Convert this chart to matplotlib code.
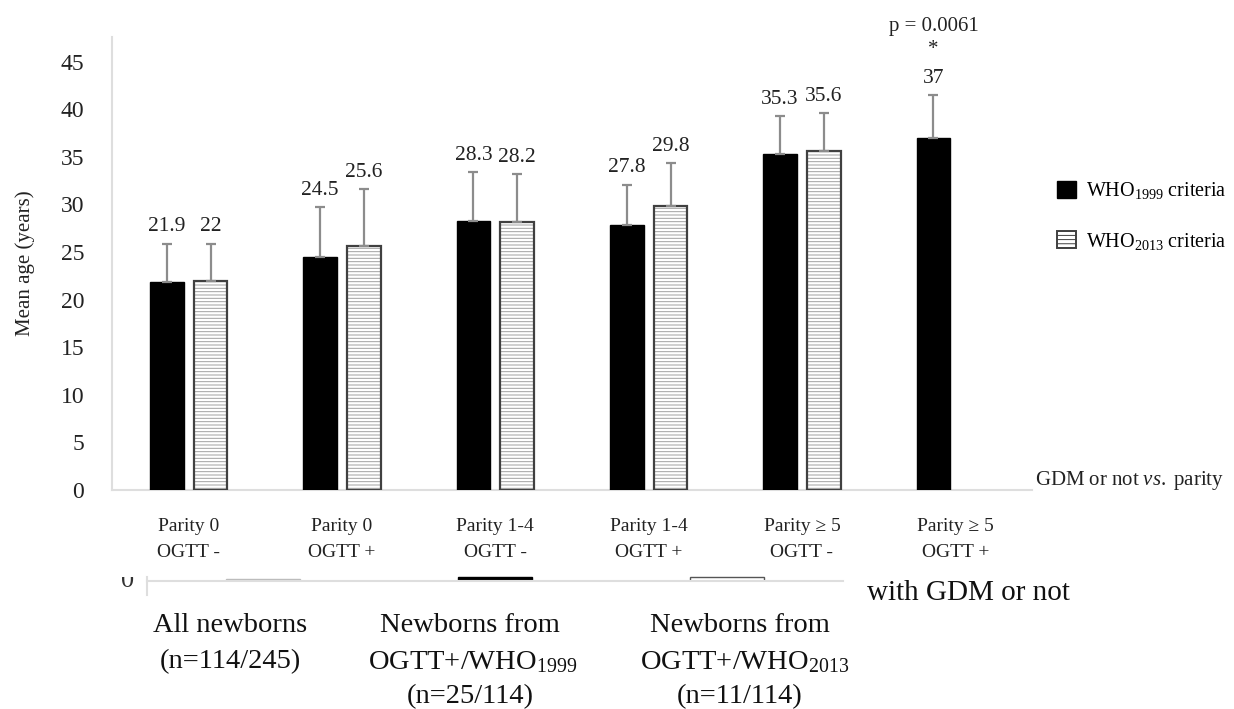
import matplotlib
matplotlib.use("Agg")
import matplotlib.pyplot as plt
import numpy as np
from matplotlib.patches import Patch
from matplotlib.lines import Line2D
from matplotlib.transforms import Bbox

plt.rcParams['font.family'] = ['Liberation Serif', 'DejaVu Serif']
plt.rcParams['mathtext.fontset'] = 'custom'
plt.rcParams['mathtext.rm'] = 'Liberation Serif'
plt.rcParams['mathtext.it'] = 'Liberation Serif:italic'
plt.rcParams['hatch.linewidth'] = 0.7

# ---------------- data ----------------
categories = ["Parity 0\nOGTT -", "Parity 0\nOGTT +", "Parity 1-4\nOGTT -",
              "Parity 1-4\nOGTT +", "Parity \u2265 5\nOGTT -", "Parity \u2265 5\nOGTT +"]
who1999_mean = [21.9, 24.5, 28.3, 27.8, 35.3, 37.0]
who1999_sd = [4.0, 5.2, 5.1, 4.3, 4.0, 4.5]
who2013_mean = [22.0, 25.6, 28.2, 29.8, 35.6, np.nan]
who2013_sd = [3.9, 6.0, 5.0, 4.55, 4.0, np.nan]
who1999_labels = ["21.9", "24.5", "28.3", "27.8", "35.3", "37"]
who2013_labels = ["22", "25.6", "28.2", "29.8", "35.6", ""]
yticks = [0, 5, 10, 15, 20, 25, 30, 35, 40, 45]

# cut-off lower chart
lower_groups = ["All newborns", "OGTT+/WHO1999", "OGTT+/WHO2013"]
lower_values = [1.2, 2.0, 2.2]

W, H = 1234, 709
fig = plt.figure(figsize=(W / 100, H / 100), dpi=100)

def fx(px):
    return px / W

def fy(py):
    return 1 - py / H

ax = fig.add_axes([fx(112), fy(490), fx(1032) - fx(112), fy(37) - fy(490)])
x = np.arange(len(categories))
bw = 0.22
off = 0.143
err_kw = dict(ecolor='#8c8c8c', elinewidth=1.6, capsize=3.5, capthick=1.6)

m1 = np.array(who1999_mean)
s1 = np.array(who1999_sd)
ax.bar(x - off, m1, bw, color='black', edgecolor='black', linewidth=1.0,
       yerr=[np.zeros_like(s1), s1], error_kw=err_kw, zorder=3)

m2 = np.array(who2013_mean)
s2 = np.array(who2013_sd)
ax.bar(x + off, m2, bw, color='white', edgecolor='#a0a0a0', hatch='-----',
       linewidth=0, zorder=3)
ax.bar(x + off, m2, bw, fill=False, edgecolor='#404040', linewidth=1.6,
       yerr=[np.zeros_like(s2), s2], error_kw=err_kw, zorder=4)

# value labels
lab_kw = dict(textcoords='offset points', ha='center', va='center',
              fontsize=15.5, color='#222222')
for xi, m, s, lab in zip(x - off, m1, s1, who1999_labels):
    ax.annotate(lab, (xi, m + s), xytext=(0, 12), **lab_kw)
for xi, m, s, lab in zip(x + off, m2, s2, who2013_labels):
    if lab:
        ax.annotate(lab, (xi, m + s), xytext=(0, 12), **lab_kw)

# significance
ax.annotate("*", (x[5] - off, m1[5] + s1[5]), xytext=(0, 33),
            textcoords='offset points', ha='center', va='center', fontsize=15,
            color='#222222', annotation_clip=False)
ax.annotate("p = 0.0061", (x[5] - off, m1[5] + s1[5]), xytext=(0, 49),
            textcoords='offset points', ha='center', va='center', fontsize=15,
            color='#222222', annotation_clip=False)

ax.set_xlim(-0.5, 5.5)
ax.set_ylim(0, 47.6)
ax.set_yticks(yticks)
ax.set_yticklabels([str(t) for t in yticks], fontsize=17, color='#222222')
ax.tick_params(axis='y', length=0, pad=20)
ax.set_xticks(x)
ax.set_xticklabels(categories, fontsize=14, color='#222222', linespacing=1.7)
ax.tick_params(axis='x', length=0, pad=20)
ax.set_ylabel("Mean age (years)", fontsize=15, color='#222222')
for sp in ['top', 'right']:
    ax.spines[sp].set_visible(False)
ax.spines['left'].set_color('#dedede')
ax.spines['bottom'].set_color('#dedede')
ax.spines['left'].set_linewidth(1.5)
ax.spines['bottom'].set_linewidth(1.5)
ax.yaxis.set_label_coords(-0.084, 0.5)

# legend
handles = [Patch(facecolor='black', edgecolor='black'),
           Patch(facecolor='white', edgecolor='#404040', hatch='----', linewidth=1.4)]
fig.legend(handles, [r"WHO$_{\mathrm{1999}}$ criteria", r"WHO$_{\mathrm{2013}}$ criteria"],
           loc='center left', bbox_to_anchor=(fx(1039), fy(216)), frameon=False,
           fontsize=14.5, handlelength=0.95, handleheight=0.95, labelspacing=1.45,
           handletextpad=0.5)

fig.text(fx(1035), fy(480), r"$\mathrm{GDM\ or\ not}\ \mathit{vs.}\ \mathrm{parity}$",
         fontsize=15, ha='left', va='center', color='#222222')

# lower (cut-off) chart
ax2 = fig.add_axes([fx(147), fy(581), fx(843) - fx(147), fy(561) - fy(581)])
xl = np.arange(len(lower_groups))
ax2.bar(xl, lower_values, 0.315, color=['white', 'black', 'white'],
        edgecolor=['#bbbbbb', 'black', '#555555'], linewidth=1.0)
ax2.set_xlim(-0.5, 2.5)
ax2.set_ylim(0, 10)
ax2.set_xticks([])
ax2.set_yticks([])
for sp in ['top', 'right', 'left']:
    ax2.spines[sp].set_visible(False)
ax2.spines['bottom'].set_color('#dedede')
ax2.spines['bottom'].set_linewidth(1.5)
fig.add_artist(Line2D([fx(147), fx(147)], [fy(577), fy(595)], color='#dedede', lw=1.5))

t0 = fig.text(fx(128), fy(581), "0", fontsize=19, ha='center', va='center', color='#333333')
t0.set_clip_box(Bbox.from_extents(0, 0, W, fy(577) * H))
t0.set_clip_on(True)

fig.text(fx(867), fy(593), "with GDM or not", fontsize=21, ha='left', va='center', color='#111111')
big = dict(fontsize=20.5, ha='center', va='center', color='#111111')
fig.text(fx(230), fy(625), "All newborns", **big)
fig.text(fx(230), fy(662), "(n=114/245)", **big)
fig.text(fx(470), fy(625), "Newborns from", **big)
fig.text(fx(473), fy(662), r"OGTT+/WHO$_{\mathrm{1999}}$", **big)
fig.text(fx(470), fy(697), "(n=25/114)", **big)
fig.text(fx(740), fy(625), "Newborns from", **big)
fig.text(fx(745), fy(662), r"OGTT+/WHO$_{\mathrm{2013}}$", **big)
fig.text(fx(740), fy(697), "(n=11/114)", **big)

fig.savefig("out.png", dpi=100)
